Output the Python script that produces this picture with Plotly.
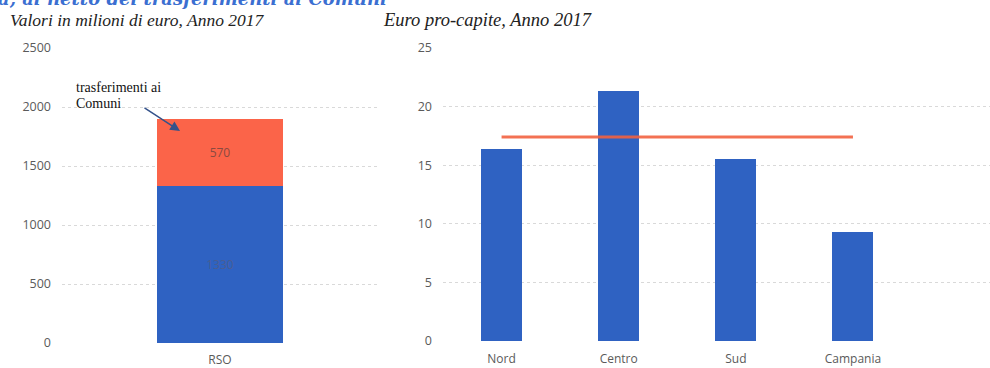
import plotly.graph_objects as go

# Left panel: transfers in million euro (RSO), stacked
left_category = ["RSO"]
rso_base = [1330]
rso_transfers = [570]
left_ticks = [0, 500, 1000, 1500, 2000, 2500]

# Right panel: per-capita euro by area
areas = ["Nord", "Centro", "Sud", "Campania"]
per_capita = [16.4, 21.3, 15.5, 9.3]
average_line = [17.4, 17.4, 17.4, 17.4]
right_ticks = [0, 5, 10, 15, 20, 25]

W, H = 990, 368
BLUE = "#2f62c2"
RED = "#fb6449"
GRID = "#d9d9d9"
TICK_FONT = dict(family="Open Sans, Liberation Sans, sans-serif", size=12.5, color="#5a5a5a")
CAT_FONT = dict(TICK_FONT, size=12)


def px_x(p):
    return p / W


def px_y(p):
    return 1 - p / H


fig = go.Figure()

fig.add_trace(go.Bar(
    x=left_category, y=rso_base, xaxis="x", yaxis="y",
    marker=dict(color=BLUE, line=dict(width=0)), width=0.4,
    text=[f"{v}" for v in rso_base], textposition="inside",
    insidetextanchor="middle",
    textfont=dict(family="Open Sans, sans-serif", size=12, color="#4a5e93"),
    showlegend=False,
))
fig.add_trace(go.Bar(
    x=left_category, y=rso_transfers, xaxis="x", yaxis="y",
    marker=dict(color=RED, line=dict(width=0)), width=0.4,
    text=[f"{v}" for v in rso_transfers], textposition="inside",
    insidetextanchor="middle",
    textfont=dict(family="Open Sans, sans-serif", size=12, color="#8a4a40"),
    showlegend=False,
))

fig.add_trace(go.Bar(
    x=areas, y=per_capita, xaxis="x2", yaxis="y2",
    marker=dict(color=BLUE, line=dict(width=0)), width=0.35,
    showlegend=False,
))
fig.add_trace(go.Scatter(
    x=areas, y=average_line, xaxis="x2", yaxis="y2", mode="lines",
    line=dict(color="rgba(242,98,64,0.9)", width=3),
    showlegend=False,
))

axis_common = dict(showline=False, zeroline=False, ticks="", automargin=False)

fig.update_layout(
    width=W, height=H,
    margin=dict(l=0, r=0, t=0, b=0),
    template="none",
    paper_bgcolor="white", plot_bgcolor="white",
    barmode="stack",
    xaxis=dict(domain=[px_x(62), px_x(378)], range=[-0.5, 0.5],
               showgrid=False, tickfont=CAT_FONT, anchor="y",
               ticklabelstandoff=8, **axis_common),
    yaxis=dict(domain=[px_y(343), px_y(48)], range=[0, 2500],
               tickvals=left_ticks, showgrid=True, gridcolor=GRID,
               griddash="dot", gridwidth=1, tickfont=TICK_FONT,
               anchor="x", ticklabelstandoff=10, **axis_common),
    xaxis2=dict(domain=[px_x(443), 1.0], range=[-0.5, 4.17],
                showgrid=False, tickfont=CAT_FONT, anchor="y2",
                ticklabelstandoff=9, **axis_common),
    yaxis2=dict(domain=[px_y(341), px_y(48)], range=[0, 25],
                tickvals=right_ticks, showgrid=True, gridcolor=GRID,
                griddash="dot", gridwidth=1, tickfont=TICK_FONT,
                anchor="x2", ticklabelstandoff=10, **axis_common),
    bargap=0.6,
)

# Heading, largely cut off at the top edge
fig.add_annotation(
    text="<b><i>a, al netto dei trasferimenti ai Comuni</i></b>",
    xref="paper", yref="paper", x=px_x(-4), y=px_y(11),
    xanchor="left", yanchor="bottom", showarrow=False,
    font=dict(family="DejaVu Serif, serif", size=18, color="#3b6fd1"),
)

# Panel subtitles
subtitle_font = dict(family="Liberation Serif, serif", size=17.5, color="#222222")
fig.add_annotation(
    text="<i>Valori in milioni di euro, Anno 2017</i>",
    xref="paper", yref="paper", x=px_x(8), y=px_y(20),
    xanchor="left", yanchor="middle", showarrow=False, font=subtitle_font,
)
fig.add_annotation(
    text="<i>Euro pro-capite, Anno 2017</i>",
    xref="paper", yref="paper", x=px_x(381), y=px_y(20),
    xanchor="left", yanchor="middle", showarrow=False,
    font=dict(subtitle_font, size=18.5),
)

# Callout for the transfers segment
callout_font = dict(family="Liberation Serif, serif", size=14, color="#111111")
fig.add_annotation(
    text="trasferimenti ai",
    xref="paper", yref="paper", x=px_x(74), y=px_y(88),
    xanchor="left", yanchor="middle", showarrow=False, font=callout_font,
)
fig.add_annotation(
    text="Comuni",
    xref="paper", yref="paper", x=px_x(74), y=px_y(103),
    xanchor="left", yanchor="middle", showarrow=False, font=callout_font,
)
fig.add_annotation(
    x=px_x(180), y=px_y(131), ax=-37, ay=-24,
    xref="paper", yref="paper", axref="pixel", ayref="pixel",
    text="", showarrow=True, arrowhead=2, arrowsize=1.3, arrowwidth=1.5,
    arrowcolor="#34528a",
)

fig.write_html("out.html")
